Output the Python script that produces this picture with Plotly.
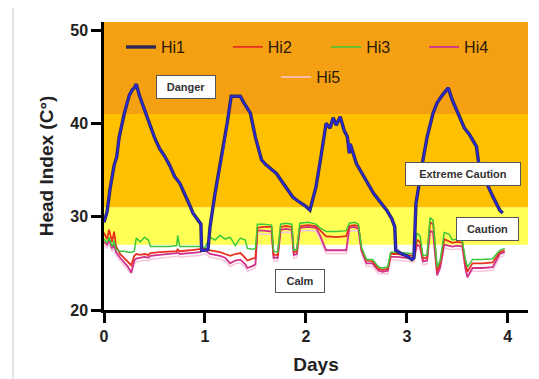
import plotly.graph_objects as go

# ---------------- data ----------------
hi1_days = [0.0, 0.03, 0.06, 0.1, 0.126, 0.15, 0.2, 0.25, 0.28, 0.3, 0.32, 0.35, 0.4, 0.44, 0.5,
            0.55, 0.6, 0.65, 0.7, 0.75, 0.8, 0.85, 0.88, 0.92, 0.96, 0.967, 1.0, 1.03, 1.05,
            1.1, 1.15, 1.18, 1.22, 1.26, 1.3, 1.35, 1.38, 1.45, 1.5, 1.56, 1.6, 1.65, 1.71,
            1.76, 1.82, 1.87, 1.93, 2.0, 2.04, 2.1, 2.15, 2.2, 2.24, 2.27, 2.3, 2.34, 2.38,
            2.41, 2.43, 2.44, 2.5, 2.55, 2.6, 2.67, 2.72, 2.8, 2.85, 2.88, 2.89, 2.95, 3.0,
            3.05, 3.07, 3.08, 3.09, 3.16, 3.2, 3.26, 3.3, 3.35, 3.41, 3.45, 3.52, 3.57, 3.62,
            3.69, 3.72, 3.79, 3.85, 3.92, 3.95]
hi1_vals = [29.4, 30.5, 33.0, 35.5, 36.4, 38.5, 41.0, 43.0, 43.6, 43.8, 44.2, 43.0, 41.5, 40.2, 38.5,
            37.3, 36.5, 35.5, 34.3, 33.6, 32.5, 31.2, 30.4, 29.8, 29.2, 26.4, 26.4, 26.5, 28.9,
            32.5, 35.5, 37.1, 40.0, 42.9, 42.9, 42.9, 42.3, 41.1, 38.5, 36.1, 35.6, 35.1, 34.6,
            33.8, 32.8, 32.1, 31.6, 31.1, 30.7, 33.2, 36.5, 40.0, 39.5, 40.6, 39.8, 40.7, 39.2,
            38.6, 36.8, 37.8, 35.7, 34.8, 33.8, 32.5, 31.8, 30.7, 29.8, 28.9, 26.4, 26.0, 25.8,
            25.4, 25.6, 30.0, 31.4, 36.1, 38.5, 41.1, 42.2, 43.0, 43.8, 42.5, 40.7, 39.5, 38.8,
            37.5, 35.0, 33.6, 32.2, 30.7, 30.4]

low_days = [0.0, 0.03, 0.05, 0.08, 0.1, 0.12, 0.16, 0.2, 0.24, 0.27, 0.3, 0.32, 0.36, 0.4, 0.44,
            0.46, 0.55, 0.65, 0.72, 0.73, 0.75, 0.85, 0.95, 1.0, 1.05, 1.1, 1.15, 1.2, 1.25,
            1.3, 1.35, 1.4, 1.42, 1.47, 1.5, 1.52, 1.58, 1.66, 1.68, 1.72, 1.75, 1.8, 1.86,
            1.88, 1.91, 1.94, 2.02, 2.1, 2.14, 2.2, 2.3, 2.4, 2.43, 2.48, 2.52, 2.55, 2.6,
            2.66, 2.72, 2.76, 2.81, 2.84, 2.9, 3.0, 3.07, 3.1, 3.13, 3.16, 3.2, 3.23, 3.26,
            3.3, 3.33, 3.37, 3.42, 3.45, 3.5, 3.55, 3.58, 3.6, 3.65, 3.75, 3.85, 3.88, 3.92, 3.97]
hi2_vals = [28.3, 27.6, 28.6, 27.3, 28.4, 26.8, 26.0, 25.6, 25.1, 24.8, 25.8, 26.0, 25.9, 26.0, 25.9,
            26.1, 26.2, 26.3, 26.3, 26.5, 26.3, 26.4, 26.5, 26.6, 26.4, 26.3, 26.2, 26.0, 25.8,
            26.0, 26.1, 25.6, 25.3, 25.5, 25.6, 28.8, 28.9, 28.9, 25.9, 25.9, 28.9, 29.0, 28.9,
            26.2, 26.3, 29.0, 29.1, 29.0, 28.6, 27.9, 27.8, 27.9, 29.0, 29.1, 29.0, 26.6, 25.3,
            25.2, 24.4, 24.3, 24.4, 26.0, 26.0, 25.9, 25.8, 27.5, 27.3, 25.5, 25.6, 29.4, 29.2,
            24.2, 25.0, 27.6, 27.4, 27.2, 27.3, 27.2, 25.0, 24.1, 25.0, 25.0, 25.1, 25.6, 26.2, 26.4]
hi3_vals = [27.6, 27.2, 27.8, 26.8, 27.4, 26.5, 26.3, 26.3, 26.2, 26.2, 26.3, 27.7, 27.3, 27.8, 27.5,
            26.8, 26.8, 26.8, 26.9, 28.0, 26.8, 26.8, 26.8, 26.7, 27.8, 27.5, 28.0, 27.6, 27.8,
            26.9, 27.7, 27.5, 26.6, 26.5, 26.6, 29.2, 29.2, 29.1, 26.3, 26.2, 29.2, 29.3, 29.2,
            26.4, 26.5, 29.3, 29.4, 29.2, 28.8, 28.4, 28.4, 28.5, 29.3, 29.4, 29.2, 26.7, 25.4,
            25.4, 24.6, 24.5, 24.6, 26.2, 26.2, 26.1, 26.0, 28.2, 28.0, 25.8, 25.9, 29.9, 29.6,
            24.6, 25.3, 28.3, 28.1, 27.5, 27.6, 27.4, 25.4, 24.6, 25.4, 25.4, 25.5, 25.9, 26.4, 26.6]
hi4_vals = [27.3, 27.0, 27.5, 26.6, 27.0, 26.2, 25.6, 25.1, 24.6, 24.0, 25.3, 25.5, 25.6, 25.7, 25.6,
            25.8, 25.9, 26.0, 26.1, 26.2, 26.0, 26.1, 26.2, 26.4, 26.0, 25.9, 25.8, 25.6, 25.0,
            25.3, 25.4, 24.9, 24.5, 24.7, 24.9, 28.5, 28.5, 28.4, 25.6, 25.6, 28.6, 28.7, 28.6,
            25.9, 26.0, 28.8, 28.9, 28.8, 28.0, 26.4, 26.4, 26.4, 28.8, 28.9, 28.7, 26.4, 25.0,
            25.0, 24.2, 24.1, 24.2, 25.7, 25.7, 25.6, 25.5, 27.0, 26.8, 25.2, 25.3, 28.5, 28.3,
            23.7, 24.6, 27.0, 26.9, 26.8, 26.9, 26.8, 24.5, 23.5, 24.5, 24.5, 24.6, 25.2, 26.0, 26.2]
hi5_vals = [23.9 if v < 24.2 else round(v - 0.35, 2) for v in hi4_vals]

series_names = ["Hi1", "Hi2", "Hi3", "Hi4", "Hi5"]
band_edges = [20, 27, 31, 41, 51]
band_labels = ["Calm", "Caution", "Extreme Caution", "Danger"]
x_ticks = [0, 1, 2, 3, 4]
y_ticks = [20, 30, 40, 50]

# ---------------- styling ----------------
band_colors = ["#FFFFFF", "#FFFF55", "#FFC000", "#F5A013"]
line_colors = {"Hi2": "#E83020", "Hi3": "#3CC83C", "Hi4": "#D02F8A", "Hi5": "#F5C6DE"}
FONT = "Arial, Liberation Sans, sans-serif"
# legend slot per series (paper x, paper y)
legend_slots = {"Hi1": (0.04, 0.972), "Hi2": (0.292, 0.972), "Hi3": (0.524, 0.972),
                "Hi4": (0.755, 0.972), "Hi5": (0.406, 0.868)}
legend_ids = {"Hi1": "legend", "Hi2": "legend2", "Hi3": "legend3", "Hi4": "legend4", "Hi5": "legend5"}

fig = go.Figure()

# colour bands
for i in range(len(band_labels)):
    fig.add_shape(type="rect", xref="paper", x0=0, x1=1, yref="y",
                  y0=band_edges[i], y1=band_edges[i + 1],
                  fillcolor=band_colors[i], line_width=0, layer="below")

# lower series
low_series = {"Hi5": hi5_vals, "Hi4": hi4_vals, "Hi2": hi2_vals, "Hi3": hi3_vals}
low_widths = {"Hi5": 1.5, "Hi4": 1.8, "Hi2": 1.8, "Hi3": 1.5}
for name, vals in low_series.items():
    fig.add_trace(go.Scatter(x=low_days, y=vals, mode="lines", name=name,
                             line=dict(color=line_colors[name], width=low_widths[name]),
                             legend=legend_ids[name]))
# Hi1 : dark outline + blue core
fig.add_trace(go.Scatter(x=hi1_days, y=hi1_vals, mode="lines", name=series_names[0],
                         line=dict(color="#2E2858", width=3.4), legendgroup="hi1",
                         legend="legend"))
fig.add_trace(go.Scatter(x=hi1_days, y=hi1_vals, mode="lines", name=series_names[0],
                         line=dict(color="#2A2AD8", width=1.8), legendgroup="hi1",
                         showlegend=False))

# labelled boxes
label_pos = {"Danger": (0.81, 43.9, 60), "Extreme Caution": (3.555, 34.6, 116),
             "Caution": (3.80, 28.7, 63), "Calm": (1.94, 23.1, 50)}
for lab, (xx, yy, w) in label_pos.items():
    fig.add_annotation(x=xx, y=yy, xref="x", yref="y", text=lab, showarrow=False,
                       font=dict(family=FONT, size=11, color="#333333", weight="bold"),
                       bgcolor="white", bordercolor="#555555", borderwidth=1,
                       borderpad=5, width=w - 12)

# outer light frame
fig.add_shape(type="rect", xref="paper", yref="paper", x0=-0.2146, x1=1.08,
              y0=-0.3, y1=1.052, line=dict(color="#DDDDDD", width=1.5),
              fillcolor="rgba(0,0,0,0)", layer="below")

legend_common = dict(orientation="h", xanchor="left", yanchor="top",
                     bgcolor="rgba(0,0,0,0)", font=dict(size=16, color="#2a1a08"))
legend_layout = {}
for name, lid in legend_ids.items():
    lx, ly = legend_slots[name]
    legend_layout[lid] = dict(legend_common, x=lx, y=ly)

fig.update_layout(
    width=539, height=379,
    margin=dict(l=96, r=19, t=14, b=77),
    paper_bgcolor="white", plot_bgcolor="white",
    font=dict(family=FONT, color="#222222"),
    xaxis=dict(range=[0, 4.2], tickvals=x_ticks, showgrid=False, zeroline=False,
               showline=True, linecolor="black", linewidth=2.5,
               ticks="outside", ticklen=10, tickwidth=2.5, tickcolor="black",
               tickfont=dict(size=16, color="#222", weight="bold"),
               title=dict(text="Days", font=dict(size=19, color="#222", weight="bold"),
                          standoff=14)),
    yaxis=dict(range=[20, 50.86], tickvals=y_ticks, showgrid=False, zeroline=False,
               showline=True, linecolor="black", linewidth=2.5,
               ticks="outside", ticklen=10, tickwidth=2.5, tickcolor="black",
               tickfont=dict(size=16, color="#222", weight="bold"),
               title=dict(text="Head Index (C°)", font=dict(size=19, color="#222", weight="bold"),
                          standoff=12)),
    **legend_layout,
)

fig.write_html("out.html")
